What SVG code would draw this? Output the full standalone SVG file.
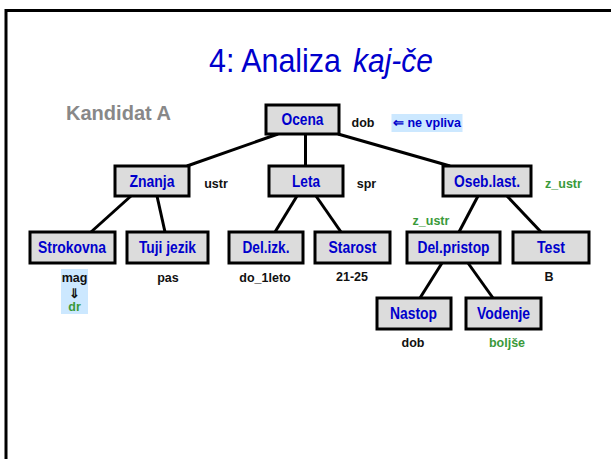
<svg xmlns="http://www.w3.org/2000/svg" width="611" height="459" viewBox="0 0 611 459">
<style>
.box{fill:#dcdcdc;stroke:#000;stroke-width:3}
.lbl{font-family:"Liberation Sans",Arial,sans-serif;font-weight:bold;font-size:16px;fill:#0000cc;text-anchor:middle}
.sm{font-family:"Liberation Sans",Arial,sans-serif;font-weight:bold;font-size:12.5px;fill:#111;text-anchor:middle}
.gr{fill:#3a9a3a}
.ttl{font-family:"Liberation Sans",Arial,sans-serif;font-size:34px;fill:#0000cc}
.conn line{stroke:#000;stroke-width:3}
</style>
<rect width="611" height="459" fill="#fff"/>
<g id="frame">
<line x1="6" y1="10.5" x2="611" y2="10.5" stroke="#000" stroke-width="3"/>
<line x1="6" y1="9" x2="6" y2="459" stroke="#000" stroke-width="3"/>
</g>
<text class="ttl" x="209" y="72" textLength="132" lengthAdjust="spacingAndGlyphs">4: Analiza</text>
<text class="ttl" x="353" y="72" font-style="italic" textLength="80" lengthAdjust="spacingAndGlyphs">kaj-če</text>
<text x="66" y="120" font-family="'Liberation Sans',Arial,sans-serif" font-size="20" font-weight="bold" fill="#888" textLength="105" lengthAdjust="spacingAndGlyphs">Kandidat A</text>
<g class="conn" id="connectors">
<line x1="278" y1="134" x2="187" y2="166"/>
<line x1="305.5" y1="134" x2="305.5" y2="166"/>
<line x1="338" y1="134" x2="450" y2="166"/>
<line x1="131" y1="196" x2="91" y2="232"/>
<line x1="157" y1="196" x2="165" y2="232"/>
<line x1="297" y1="196" x2="275" y2="232"/>
<line x1="316" y1="196" x2="341" y2="232"/>
<line x1="478" y1="196" x2="459" y2="232"/>
<line x1="507" y1="196" x2="541" y2="232"/>
<line x1="442" y1="263" x2="420" y2="298"/>
<line x1="468" y1="263" x2="493" y2="298"/>
</g>
<g id="ocena"><rect class="box" x="266" y="105" width="73" height="29"/><text class="lbl" x="302.5" y="125" textLength="42" lengthAdjust="spacingAndGlyphs">Ocena</text></g>
<g id="znanja"><rect class="box" x="115" y="166" width="74" height="30"/><text class="lbl" x="152" y="187" textLength="45" lengthAdjust="spacingAndGlyphs">Znanja</text></g>
<g id="leta"><rect class="box" x="269" y="166" width="74" height="30"/><text class="lbl" x="306" y="187" textLength="28" lengthAdjust="spacingAndGlyphs">Leta</text></g>
<g id="oseb"><rect class="box" x="443" y="166" width="88" height="30"/><text class="lbl" x="487" y="187" textLength="66" lengthAdjust="spacingAndGlyphs">Oseb.last.</text></g>
<g id="strokovna"><rect class="box" x="30" y="232" width="85" height="31"/><text class="lbl" x="72" y="253" textLength="68" lengthAdjust="spacingAndGlyphs">Strokovna</text></g>
<g id="tuji"><rect class="box" x="127" y="232" width="81" height="31"/><text class="lbl" x="167.5" y="253" textLength="57" lengthAdjust="spacingAndGlyphs">Tuji jezik</text></g>
<g id="delizk"><rect class="box" x="229" y="232" width="74" height="31"/><text class="lbl" x="266" y="253" textLength="47" lengthAdjust="spacingAndGlyphs">Del.izk.</text></g>
<g id="starost"><rect class="box" x="315" y="232" width="75" height="31"/><text class="lbl" x="352.5" y="253" textLength="48" lengthAdjust="spacingAndGlyphs">Starost</text></g>
<g id="delpristop"><rect class="box" x="407" y="232" width="93" height="31"/><text class="lbl" x="453.5" y="253" textLength="72" lengthAdjust="spacingAndGlyphs">Del.pristop</text></g>
<g id="test"><rect class="box" x="513" y="232" width="76" height="31"/><text class="lbl" x="551" y="253" textLength="28" lengthAdjust="spacingAndGlyphs">Test</text></g>
<g id="nastop"><rect class="box" x="377" y="298" width="74" height="31"/><text class="lbl" x="413.5" y="319" textLength="47" lengthAdjust="spacingAndGlyphs">Nastop</text></g>
<g id="vodenje"><rect class="box" x="466" y="298" width="75" height="31"/><text class="lbl" x="503.5" y="319" textLength="53" lengthAdjust="spacingAndGlyphs">Vodenje</text></g>
<g id="values">
<text class="sm" x="363" y="127">dob</text>
<rect x="391.5" y="114" width="71" height="18" fill="#cce8ff"/>
<text class="sm" x="427" y="126.5" style="fill:#0000cc" textLength="68" lengthAdjust="spacingAndGlyphs">⇐ ne vpliva</text>
<text class="sm" x="216" y="188">ustr</text>
<text class="sm" x="366.5" y="188">spr</text>
<text class="sm gr" x="563.5" y="188">z_ustr</text>
<text class="sm gr" x="431" y="225">z_ustr</text>
<rect x="61" y="269" width="27" height="45" fill="#cce8ff"/>
<text class="sm" x="74.5" y="282">mag</text>
<text class="sm" x="74.5" y="298" font-size="15">⇓</text>
<text class="sm gr" x="74.5" y="311">dr</text>
<text class="sm" x="168" y="282">pas</text>
<text class="sm" x="265" y="282">do_1leto</text>
<text class="sm" x="352" y="281">21-25</text>
<text class="sm" x="549" y="281">B</text>
<text class="sm" x="413" y="347">dob</text>
<text class="sm gr" x="507" y="347">boljše</text>
</g>
</svg>
